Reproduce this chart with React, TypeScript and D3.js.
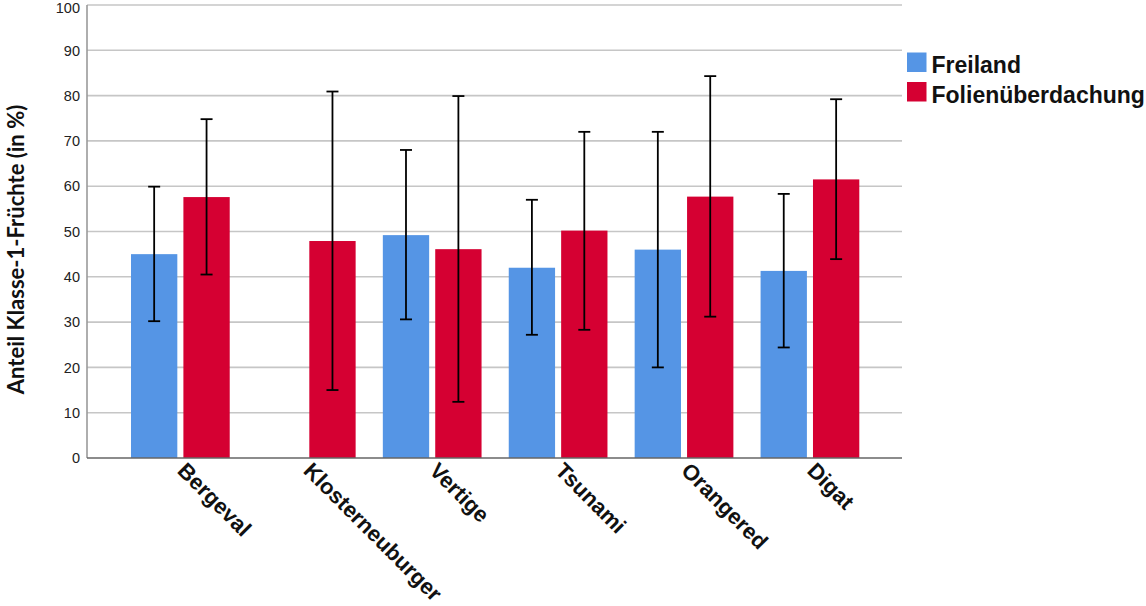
import React, { useRef, useEffect } from 'react';
import * as d3 from 'd3';

const categories = ['Bergeval', 'Klosterneuburger', 'Vertige', 'Tsunami', 'Orangered', 'Digat'];
const seriesNames = ['Freiland', 'Folienüberdachung'];
const seriesColors = ['#5595e5', '#d50032'];

// mean and error bar ends (in %)
const freilandMean = [45.0, null, 49.2, 42.0, 46.0, 41.3];
const freilandLow = [30.2, null, 30.6, 27.2, 20.0, 24.4];
const freilandHigh = [59.9, null, 68.0, 57.0, 72.0, 58.3];
const folieMean = [57.6, 47.9, 46.1, 50.2, 57.7, 61.5];
const folieLow = [40.5, 15.0, 12.4, 28.3, 31.2, 43.9];
const folieHigh = [74.8, 80.9, 79.9, 72.0, 84.3, 79.2];

const yTicks = [0, 10, 20, 30, 40, 50, 60, 70, 80, 90, 100];
const yTitle = 'Anteil Klasse-1-Früchte (in %)';

interface BarDatum {
  category: string;
  series: string;
  color: string;
  mean: number;
  low: number;
  high: number;
}

const App: React.FC = () => {
  const svgRef = useRef<SVGSVGElement | null>(null);

  useEffect(() => {
    const width = 1146;
    const height = 606;
    const plot = { left: 87, right: 902, top: 5, bottom: 458 };

    d3.select(svgRef.current).selectAll('*').remove();

    const svg = d3
      .select(svgRef.current)
      .attr('width', width)
      .attr('height', height);

    const y = d3.scaleLinear().domain([0, 100]).range([plot.bottom, plot.top]);

    const x0 = d3
      .scaleBand()
      .domain(categories)
      .range([plot.left + 30.4, plot.right - 29.1])
      .paddingInner(0.216)
      .paddingOuter(0.108);

    const x1 = d3
      .scaleBand()
      .domain(seriesNames)
      .range([0, x0.bandwidth()])
      .paddingInner(0.116);

    const bars: BarDatum[] = [];
    categories.forEach((c, i) => {
      const rows = [
        [freilandMean[i], freilandLow[i], freilandHigh[i]],
        [folieMean[i], folieLow[i], folieHigh[i]],
      ];
      rows.forEach((r, s) => {
        if (r[0] == null) return;
        bars.push({
          category: c,
          series: seriesNames[s],
          color: seriesColors[s],
          mean: r[0] as number,
          low: r[1] as number,
          high: r[2] as number,
        });
      });
    });

    // grid
    svg
      .append('g')
      .selectAll('line')
      .data(yTicks.filter((t) => t > 0))
      .enter()
      .append('line')
      .attr('x1', plot.left)
      .attr('x2', plot.right)
      .attr('y1', (d) => y(d))
      .attr('y2', (d) => y(d))
      .attr('stroke', '#c6c6c6')
      .attr('stroke-width', 1.6);

    // y tick labels (top one nudged so it isn't clipped)
    svg
      .append('g')
      .selectAll('text')
      .data(yTicks)
      .enter()
      .append('text')
      .attr('x', plot.left - 7)
      .attr('y', (d) => Math.max(y(d), 8))
      .attr('dy', '0.36em')
      .attr('text-anchor', 'end')
      .style('font-family', '"Liberation Sans", Arial, sans-serif')
      .style('font-size', '14.5px')
      .attr('fill', '#222')
      .text((d) => d);

    // bars
    const barX = (d: BarDatum) => x0(d.category)! + x1(d.series)!;
    svg
      .append('g')
      .selectAll('rect')
      .data(bars)
      .enter()
      .append('rect')
      .attr('x', barX)
      .attr('y', (d) => y(d.mean))
      .attr('width', x1.bandwidth())
      .attr('height', (d) => y(0) - y(d.mean))
      .attr('fill', (d) => d.color);

    // error bars
    const capHalf = 6;
    const err = svg.append('g').attr('stroke', '#000').attr('stroke-width', 1.8);
    bars.forEach((d) => {
      const cx = barX(d) + x1.bandwidth() / 2;
      err.append('line').attr('x1', cx).attr('x2', cx).attr('y1', y(d.low)).attr('y2', y(d.high));
      [d.low, d.high].forEach((v) => {
        err
          .append('line')
          .attr('x1', cx - capHalf)
          .attr('x2', cx + capHalf)
          .attr('y1', y(v))
          .attr('y2', y(v));
      });
    });

    // axes lines
    svg
      .append('line')
      .attr('x1', plot.left)
      .attr('x2', plot.left)
      .attr('y1', plot.top)
      .attr('y2', plot.bottom)
      .attr('stroke', '#9a9a9a')
      .attr('stroke-width', 1.6);
    svg
      .append('line')
      .attr('x1', plot.left)
      .attr('x2', plot.right)
      .attr('y1', plot.bottom)
      .attr('y2', plot.bottom)
      .attr('stroke', '#666')
      .attr('stroke-width', 1.6);

    // x labels, rotated 45deg
    svg
      .append('g')
      .selectAll('text')
      .data(categories)
      .enter()
      .append('text')
      .attr('transform', (d) => `translate(${x0(d)! + x0.bandwidth() / 2 - 4},${plot.bottom + 14}) rotate(45)`)
      .attr('text-anchor', 'start')
      .style('font-family', '"Liberation Sans", Arial, sans-serif')
      .style('font-size', '22px')
      .style('font-weight', 'bold')
      .attr('fill', '#111')
      .text((d) => d);

    // y title
    svg
      .append('text')
      .attr('transform', `translate(24,${(plot.top + plot.bottom) / 2 + 18}) rotate(-90)`)
      .attr('text-anchor', 'middle')
      .style('font-family', 'Lato, "Liberation Sans", sans-serif')
      .style('font-size', '22px')
      .style('font-weight', 'bold')
      .attr('fill', '#111')
      .text(yTitle);

    // legend
    const legend = svg
      .append('g')
      .selectAll('g')
      .data(seriesNames)
      .enter()
      .append('g')
      .attr('transform', (d, i) => `translate(907,${52.5 + i * 29.5})`);
    legend
      .append('rect')
      .attr('width', 19.5)
      .attr('height', 19.5)
      .attr('fill', (d, i) => seriesColors[i]);
    legend
      .append('text')
      .attr('x', 24.5)
      .attr('y', 20.5)
      .style('font-family', '"Liberation Sans", Arial, sans-serif')
      .style('font-size', '23px')
      .style('font-weight', 'bold')
      .attr('fill', '#111')
      .text((d) => d);
  }, []);

  return <svg ref={svgRef} style={{ position: 'absolute', left: 0, top: 0, display: 'block' }}></svg>;
};

export default App;
